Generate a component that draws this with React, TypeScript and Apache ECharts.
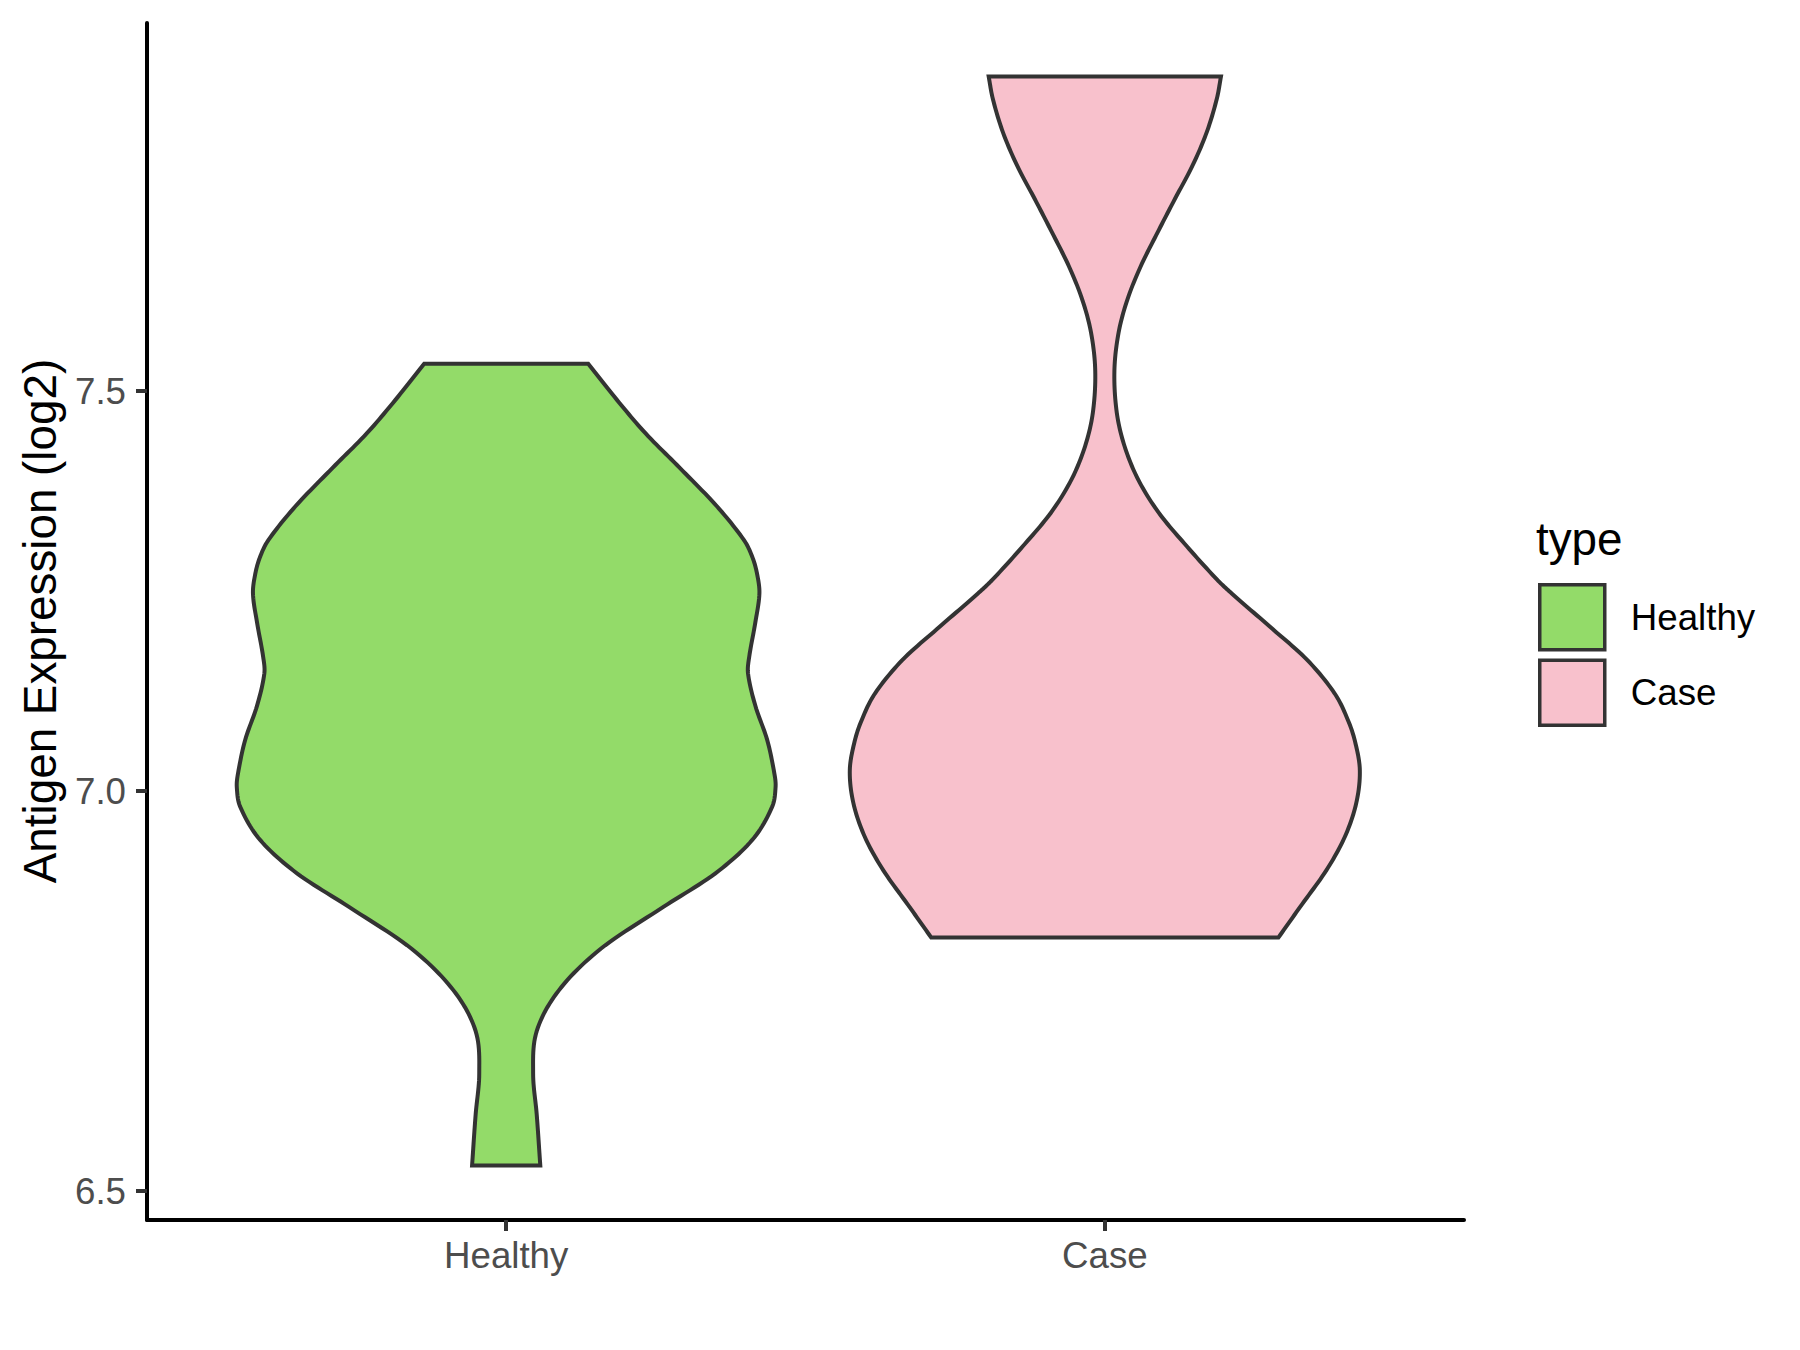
import React, { useEffect, useRef } from "react";
import * as echarts from "echarts";

const categories = ["Healthy", "Case"];
const fillColors = ["#93DB69", "#F8C1CC"];

// Violin outlines: expression value (log2) and half width (fraction of category spacing)
const healthyValues = [7.534, 7.489, 7.447, 7.404, 7.356, 7.314, 7.293, 7.272, 7.247, 7.21, 7.168, 7.147, 7.106, 7.064, 7.022, 7.005, 6.98, 6.939, 6.897, 6.855, 6.803, 6.751, 6.7, 6.647, 6.596, 6.532];
const healthyHalfWidths = [0.137, 0.185, 0.233, 0.29, 0.352, 0.397, 0.411, 0.419, 0.423, 0.416, 0.406, 0.404, 0.4165, 0.436, 0.448, 0.45, 0.444, 0.411, 0.349, 0.262, 0.158, 0.088, 0.051, 0.045, 0.051, 0.057];

const caseValues = [7.893, 7.865, 7.823, 7.781, 7.74, 7.698, 7.656, 7.615, 7.573, 7.525, 7.473, 7.431, 7.389, 7.348, 7.306, 7.264, 7.247, 7.206, 7.164, 7.122, 7.089, 7.062, 7.026, 6.985, 6.943, 6.901, 6.855, 6.817];
const caseHalfWidths = [0.194, 0.187, 0.17, 0.146, 0.117, 0.088, 0.06, 0.038, 0.023, 0.016, 0.02, 0.033, 0.056, 0.09, 0.137, 0.188, 0.212, 0.275, 0.338, 0.384, 0.406, 0.418, 0.426, 0.42, 0.401, 0.37, 0.326, 0.29];

const yTicks = [6.5, 7.0, 7.5];
const yMin = 6.464;
const yMax = 7.96;

const profiles = [
  { values: healthyValues, widths: healthyHalfWidths },
  { values: caseValues, widths: caseHalfWidths },
];

const FONT = "'Liberation Sans', Arial, Helvetica, sans-serif";

// Smooth outline: cubic Hermite of half width as a function of value
function smoothProfile(vals: number[], ws: number[], seg: number): number[][] {
  const n = vals.length;
  const m: number[] = [];
  for (let i = 0; i < n; i++) {
    if (i === 0) m.push((ws[1] - ws[0]) / (vals[1] - vals[0]));
    else if (i === n - 1) m.push((ws[n - 1] - ws[n - 2]) / (vals[n - 1] - vals[n - 2]));
    else m.push((ws[i + 1] - ws[i - 1]) / (vals[i + 1] - vals[i - 1]));
  }
  const out: number[][] = [];
  for (let i = 0; i < n - 1; i++) {
    const h = vals[i + 1] - vals[i];
    for (let k = 0; k < seg; k++) {
      const t = k / seg;
      const t2 = t * t;
      const t3 = t2 * t;
      const h00 = 2 * t3 - 3 * t2 + 1;
      const h10 = t3 - 2 * t2 + t;
      const h01 = -2 * t3 + 3 * t2;
      const h11 = t3 - t2;
      const w = h00 * ws[i] + h10 * h * m[i] + h01 * ws[i + 1] + h11 * h * m[i + 1];
      out.push([vals[i] + t * h, w]);
    }
  }
  out.push([vals[n - 1], ws[n - 1]]);
  return out;
}

function renderViolin(params: any, api: any) {
  const idx = params.seriesIndex;
  const prof = profiles[idx];
  const cat = api.value(0);
  const unit = api.size([1, 0])[0];
  const cx = api.coord([cat, prof.values[0]])[0];
  const dense = smoothProfile(prof.values, prof.widths, 12).map(([v, w]) => {
    const p = api.coord([cat, v]);
    return [cx + w * unit, p[1]];
  });
  const left = dense.slice().reverse().map((p) => [2 * cx - p[0], p[1]]);
  const points = dense.concat(left);
  return {
    type: "polygon",
    shape: { points },
    style: {
      fill: fillColors[idx],
      stroke: "#333333",
      lineWidth: 4,
      lineJoin: "miter",
    },
  };
}

export default function App() {
  const ref = useRef<HTMLDivElement>(null);

  useEffect(() => {
    if (!ref.current) return;
    const chart = echarts.init(ref.current, null, { renderer: "svg" });
    const option: any = {
      animation: false,
      backgroundColor: "#ffffff",
      grid: { left: 147, right: 336, top: 23, bottom: 130, containLabel: false },
      xAxis: {
        type: "value",
        min: -0.6,
        max: 1.6,
        splitLine: { show: false },
        axisLine: { show: true, onZero: false, lineStyle: { color: "#000000", width: 4 } },
        axisTick: { show: true, customValues: [0, 1], length: 11, lineStyle: { color: "#333333", width: 4 } },
        axisLabel: {
          show: true,
          customValues: [0, 1],
          formatter: (v: number) => categories[Math.round(v)] ?? "",
          margin: 17,
          color: "#4D4D4D",
          fontSize: 36.7,
          fontFamily: FONT,
        },
      },
      yAxis: {
        type: "value",
        min: yMin,
        max: yMax,
        splitLine: { show: false },
        axisLine: { show: true, onZero: false, lineStyle: { color: "#000000", width: 4 } },
        axisTick: { show: true, customValues: yTicks, length: 11, lineStyle: { color: "#333333", width: 4 } },
        axisLabel: {
          show: true,
          customValues: yTicks,
          formatter: (v: number) => v.toFixed(1),
          margin: 21,
          color: "#4D4D4D",
          fontSize: 36.7,
          fontFamily: FONT,
        },
      },
      legend: {
        show: true,
        data: categories,
        orient: "vertical",
        left: 1538,
        top: 583,
        padding: 0,
        icon: "rect",
        itemWidth: 65,
        itemHeight: 65,
        itemGap: 7,
        selectedMode: false,
        itemStyle: { borderColor: "#333333", borderWidth: 3.5 },
        textStyle: { fontSize: 36.7, color: "#000000", fontFamily: FONT, padding: [0, 0, 0, 21] },
      },
      graphic: [
        {
          type: "text",
          x: 40,
          y: 621,
          rotation: Math.PI / 2,
          style: {
            text: "Antigen Expression (log2)",
            fontSize: 45.8,
            fontFamily: FONT,
            fill: "#000000",
            align: "center",
            verticalAlign: "middle",
          },
        },
        {
          type: "text",
          x: 1536,
          y: 539,
          style: {
            text: "type",
            fontSize: 45.8,
            fontFamily: FONT,
            fill: "#000000",
            align: "left",
            verticalAlign: "middle",
          },
        },
      ],
      series: categories.map((name, i) => ({
        type: "custom",
        name,
        renderItem: renderViolin,
        itemStyle: { color: fillColors[i], borderColor: "#333333", borderWidth: 3.5 },
        encode: { x: 0, y: 1 },
        data: [[i, profiles[i].values[0]]],
        clip: false,
      })),
    };
    chart.setOption(option);
    return () => chart.dispose();
  }, []);

  return (
    <div
      ref={ref}
      style={{ position: "absolute", left: 0, top: 0, width: 1800, height: 1350 }}
    />
  );
}
